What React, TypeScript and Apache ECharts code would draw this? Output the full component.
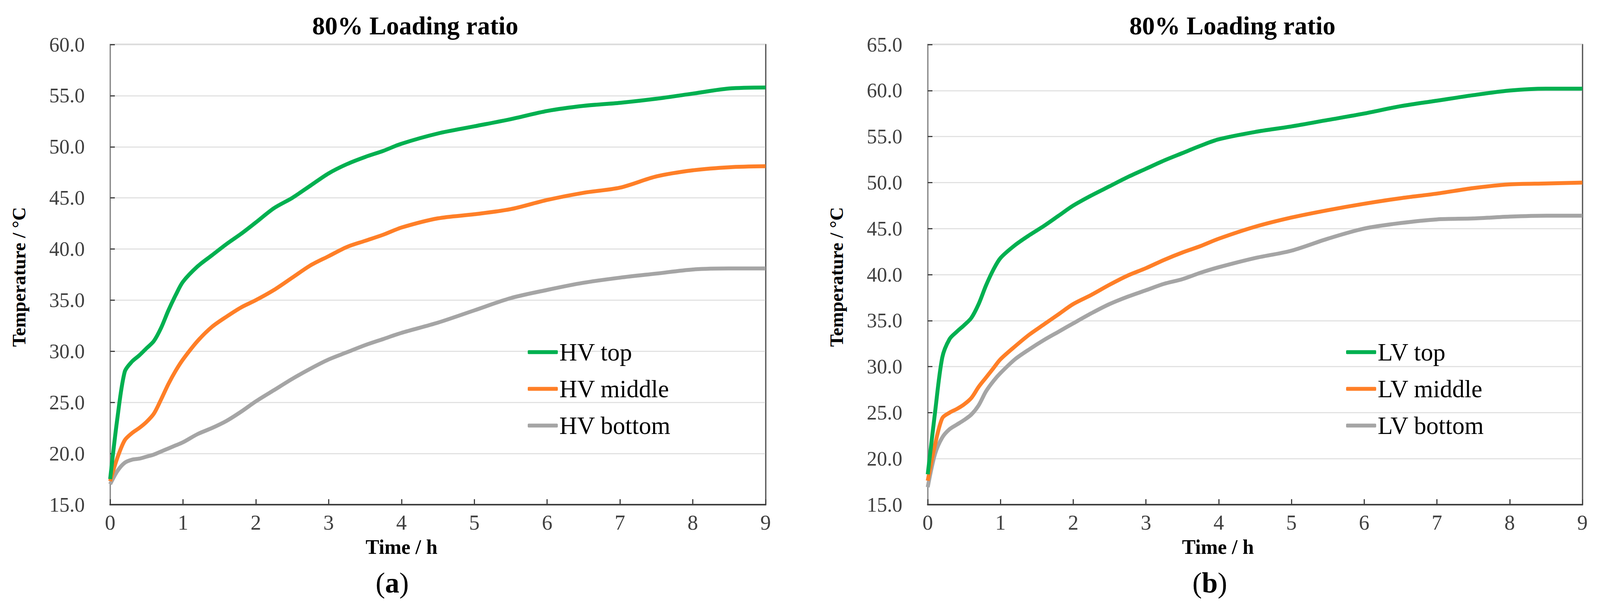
import React, { useEffect, useRef, useState } from "react";
import * as echarts from "echarts";

const timeH = [0, 0.1, 0.2, 0.3, 0.4, 0.5, 0.6, 0.7, 0.8, 0.9, 1.0, 1.2, 1.4, 1.6, 1.8, 2.0, 2.25, 2.5, 2.75, 3.0, 3.25, 3.5, 3.75, 4.0, 4.5, 5.0, 5.5, 6.0, 6.5, 7.0, 7.5, 8.0, 8.5, 9.0];

const hvTop = [17.5, 23.5, 28.0, 29.0, 29.6, 30.3, 31.0, 32.3, 34.0, 35.5, 36.8, 38.3, 39.4, 40.5, 41.5, 42.6, 44.0, 45.0, 46.2, 47.4, 48.3, 49.0, 49.6, 50.3, 51.3, 52.0, 52.7, 53.5, 54.0, 54.3, 54.7, 55.2, 55.7, 55.8];
const hvMiddle = [17.3, 19.6, 21.3, 22.0, 22.5, 23.1, 23.9, 25.3, 26.8, 28.1, 29.2, 31.0, 32.4, 33.4, 34.3, 35.0, 36.0, 37.2, 38.4, 39.3, 40.2, 40.8, 41.4, 42.1, 43.0, 43.4, 43.9, 44.8, 45.5, 46.0, 47.1, 47.7, 48.0, 48.1];
const hvBottom = [17.0, 18.3, 19.1, 19.4, 19.5, 19.7, 19.9, 20.2, 20.5, 20.8, 21.1, 21.9, 22.5, 23.2, 24.1, 25.1, 26.2, 27.3, 28.3, 29.2, 29.9, 30.6, 31.2, 31.8, 32.8, 34.0, 35.2, 36.0, 36.7, 37.2, 37.6, 38.0, 38.1, 38.1];

const lvTop = [18.3, 25.0, 31.0, 33.0, 33.8, 34.5, 35.3, 36.8, 38.8, 40.5, 41.8, 43.2, 44.3, 45.3, 46.4, 47.5, 48.6, 49.6, 50.6, 51.5, 52.4, 53.2, 54.0, 54.7, 55.5, 56.1, 56.8, 57.5, 58.3, 58.9, 59.5, 60.0, 60.2, 60.2];
const lvMiddle = [17.6, 21.5, 24.4, 25.0, 25.4, 25.9, 26.6, 27.8, 28.8, 29.8, 30.8, 32.2, 33.5, 34.6, 35.7, 36.8, 37.8, 38.9, 39.9, 40.7, 41.6, 42.4, 43.1, 43.9, 45.2, 46.2, 47.0, 47.7, 48.3, 48.8, 49.4, 49.8, 49.9, 50.0];
const lvBottom = [16.9, 20.5, 22.3, 23.2, 23.7, 24.2, 24.8, 25.8, 27.3, 28.4, 29.3, 30.8, 31.9, 32.9, 33.8, 34.7, 35.8, 36.8, 37.6, 38.3, 39.0, 39.5, 40.2, 40.8, 41.8, 42.6, 43.9, 45.0, 45.6, 46.0, 46.1, 46.3, 46.4, 46.4];

const hvNames = ["HV top", "HV middle", "HV bottom"];
const lvNames = ["LV top", "LV middle", "LV bottom"];
const colors = ["#00B050", "#FF7F27", "#A5A5A5"];

const chartTitle = "80% Loading ratio";
const yName = "Temperature / \u00B0C";
const xName = "Time / h";

const FONT = "'Liberation Serif', 'Times New Roman', serif";

const pairs = (vals: number[]) => vals.map((v, i) => [timeH[i], v]);

export default function App() {
  const ref = useRef<HTMLDivElement>(null);
  const [size] = useState(() => ({
    w: Math.max(800, window.innerWidth || 4272),
    h: Math.max(300, window.innerHeight || 1554),
  }));
  useEffect(() => {
    document.body.style.margin = "0";
    document.body.style.overflow = "hidden";
    if (!ref.current) return;
    const chart = echarts.init(ref.current, null, { renderer: "svg" });
    const sx = size.w / 4272;
    const sy = size.h / 1554;
    const f = Math.min(sx, sy);
    const X = (v: number) => Math.round(v * sx);
    const Y = (v: number) => Math.round(v * sy);
    const F = (v: number) => Math.round(v * f);

    const grids = [
      { left: X(294), top: Y(114), width: X(1750), height: Y(1178) },
      { left: X(2477), top: Y(114), width: X(1748), height: Y(1178) },
    ];

    const xAxisOf = (gi: number) => ({
      type: "value",
      gridIndex: gi,
      min: 0,
      max: 9,
      interval: 1,
      axisLine: { show: true, lineStyle: { color: "#404040", width: F(4) } },
      axisTick: { show: true, inside: true, length: F(15), lineStyle: { color: "#404040", width: F(3) } },
      splitLine: { show: false },
      axisLabel: { color: "#404040", fontSize: F(56), fontFamily: FONT, margin: F(20) },
    });

    const yAxisOf = (gi: number, max: number) => ({
      type: "value",
      gridIndex: gi,
      min: 15,
      max,
      interval: 5,
      axisLine: { show: true, lineStyle: { color: "#8c8c8c", width: F(3) } },
      axisTick: { show: true, inside: true, length: F(12), lineStyle: { color: "#404040", width: F(3) } },
      splitLine: { show: true, lineStyle: { color: "#e2e2e2", width: F(3) } },
      axisLabel: {
        color: "#404040",
        fontSize: F(54),
        fontFamily: FONT,
        margin: F(68),
        formatter: (v: number) => v.toFixed(1),
      },
    });

    const rightBorder = (gi: number, max: number) => ({
      type: "value",
      gridIndex: gi,
      position: "right",
      min: 15,
      max,
      interval: 5,
      axisLine: { show: true, lineStyle: { color: "#595959", width: F(3) } },
      axisTick: { show: false },
      axisLabel: { show: false },
      splitLine: { show: false },
    });

    const mkSeries = (names: string[], data: number[][], gi: number) =>
      names.map((n, i) => ({
        name: n,
        type: "line",
        xAxisIndex: gi,
        yAxisIndex: gi,
        data: pairs(data[i]),
        showSymbol: false,
        symbol: "none",
        smooth: 0.3,
        lineStyle: { color: colors[i], width: F(10) },
        itemStyle: { color: colors[i] },
        z: 5 - i,
      }));

    const legendOf = (names: string[], left: number) => ({
      orient: "vertical",
      left: X(left),
      top: Y(870),
      padding: 0,
      data: names,
      icon: "roundRect",
      itemWidth: F(80),
      itemHeight: F(10),
      itemGap: Y(31),
      textStyle: { fontSize: F(66), fontFamily: FONT, color: "#000", lineHeight: F(66), padding: [0, 0, 0, -1] },
    });

    const textEl = (text: string, x: number, y: number, size: number, bold: boolean, rotation = 0) => ({
      type: "text",
      x: X(x),
      y: Y(y),
      rotation,
      style: {
        text,
        fill: "#000",
        font: `${bold ? "bold " : ""}${F(size)}px ${FONT}`,
        textAlign: "center",
        textVerticalAlign: "middle",
      },
    });

    const panelLabel = (letter: string, x: number, y: number) => ({
      type: "text",
      x: X(x),
      y: Y(y),
      style: {
        text: `{n|(}{b|${letter}}{n|)}`,
        textAlign: "center",
        textVerticalAlign: "middle",
        rich: {
          n: { fontSize: F(76), fontFamily: FONT, fill: "#000", color: "#000" },
          b: { fontSize: F(76), fontFamily: FONT, fontWeight: "bold", fill: "#000", color: "#000" },
        },
      },
    });

    chart.setOption({
      animation: false,
      backgroundColor: "#ffffff",
      textStyle: { fontFamily: FONT },
      grid: grids.map((g) => ({ ...g, show: true, borderColor: "#8c8c8c", borderWidth: F(3), backgroundColor: "transparent" })),
      xAxis: [xAxisOf(0), xAxisOf(1)],
      yAxis: [yAxisOf(0, 60), yAxisOf(1, 65), rightBorder(0, 60), rightBorder(1, 65)],
      legend: [legendOf(hvNames, 1409), legendOf(lvNames, 3594)],
      series: [
        ...mkSeries(hvNames, [hvTop, hvMiddle, hvBottom], 0),
        ...mkSeries(lvNames, [lvTop, lvMiddle, lvBottom], 1),
      ],
      graphic: [
        textEl(chartTitle, 1109, 66, 68, true),
        textEl(chartTitle, 3291, 66, 68, true),
        textEl(yName, 50, 709, 50, true, Math.PI / 2),
        textEl(yName, 2233, 709, 50, true, Math.PI / 2),
        textEl(xName, 1072, 1400, 54, true),
        textEl(xName, 3252, 1400, 54, true),
        panelLabel("a", 1047, 1492),
        panelLabel("b", 3230, 1492),
      ],
    });
    return () => chart.dispose();
  }, [size]);
  return <div ref={ref} style={{ width: size.w, height: size.h }} />;
}
